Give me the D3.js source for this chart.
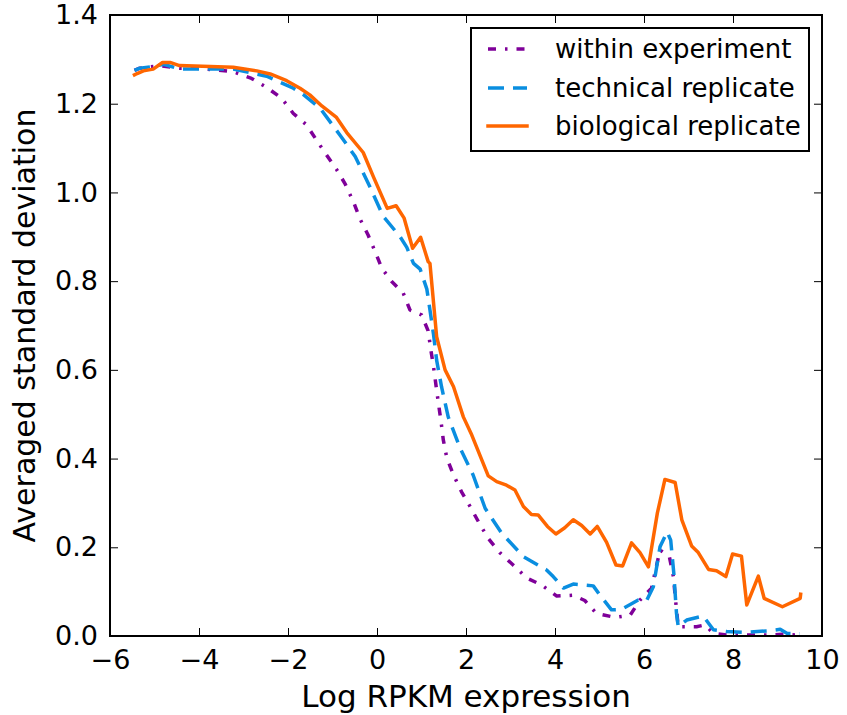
<!DOCTYPE html>
<html>
<head>
<meta charset="utf-8">
<script src="https://cdn.jsdelivr.net/npm/d3@7"></script>
<style>
  html, body { margin: 0; padding: 0; background: #fff; }
  svg { display: block; font-family: "DejaVu Sans", sans-serif; }
</style>
</head>
<body>
<svg id="chart" width="847" height="715"></svg>
<script>
// ---- data ----
const seriesNames = ["within experiment", "technical replicate", "biological replicate"];

const withinX = [-5.45,-5.33,-4.88,-4.43,-4.05,-3.60,-3.23,-2.82,-2.48,-2.14,-1.88,-1.58,-1.36,-1.13,-0.91,-0.72,-0.53,-0.38,-0.20,-0.04,0.11,0.33,0.59,0.74,1.00,1.15,1.21,1.27,1.33,1.38,1.44,1.49,1.57,1.72,1.90,2.09,2.30,2.50,2.76,3.06,3.36,3.70,4.04,4.41,4.67,4.93,5.35,5.69,5.91,6.17,6.36,6.57,6.66,6.73,6.77,7.18,7.37,7.56,7.90,8.30,8.83,9.10,9.50];
const withinY = [1.275,1.280,1.286,1.280,1.280,1.276,1.272,1.257,1.237,1.212,1.178,1.152,1.118,1.084,1.052,1.020,0.979,0.940,0.904,0.866,0.829,0.799,0.773,0.735,0.724,0.688,0.645,0.607,0.562,0.525,0.483,0.442,0.401,0.363,0.325,0.292,0.254,0.220,0.188,0.160,0.131,0.115,0.090,0.092,0.080,0.051,0.042,0.047,0.081,0.108,0.194,0.179,0.134,0.059,0.021,0.021,0.025,0.006,0.002,0.002,0.002,0.004,0.002];

const techX = [-5.45,-5.33,-5.03,-4.80,-4.43,-3.98,-3.23,-2.48,-1.88,-1.66,-1.28,-0.83,-0.49,-0.16,0.14,0.52,0.67,0.82,0.97,1.12,1.19,1.27,1.34,1.45,1.60,1.87,2.16,2.43,2.80,3.29,3.81,3.96,4.19,4.41,4.86,5.01,5.27,5.49,5.87,6.06,6.21,6.36,6.52,6.60,6.67,6.73,6.77,6.96,7.33,7.56,7.86,8.23,8.83,9.06,9.21,9.50];
const techY = [1.275,1.280,1.284,1.289,1.278,1.278,1.278,1.262,1.235,1.221,1.190,1.129,1.081,1.013,0.946,0.900,0.876,0.840,0.827,0.782,0.735,0.680,0.622,0.562,0.494,0.423,0.363,0.288,0.232,0.179,0.149,0.134,0.108,0.117,0.113,0.092,0.059,0.060,0.081,0.080,0.111,0.201,0.235,0.216,0.141,0.051,0.021,0.036,0.045,0.014,0.010,0.008,0.012,0.015,0.006,0.005];

const bioX = [-5.45,-5.39,-5.25,-5.03,-4.82,-4.65,-4.44,-3.23,-2.70,-2.40,-2.03,-1.73,-1.51,-1.24,-0.91,-0.68,-0.31,-0.08,0.23,0.43,0.61,0.80,0.98,1.15,1.19,1.34,1.53,1.72,1.94,2.13,2.50,2.69,2.91,3.10,3.29,3.47,3.62,3.83,4.02,4.22,4.41,4.60,4.79,4.95,5.16,5.37,5.52,5.72,5.91,6.10,6.30,6.47,6.70,6.85,7.07,7.22,7.45,7.63,7.84,7.99,8.19,8.31,8.57,8.70,9.11,9.51,9.52];
const bioY = [1.265,1.268,1.274,1.278,1.293,1.293,1.286,1.282,1.274,1.267,1.252,1.235,1.220,1.195,1.169,1.135,1.090,1.035,0.964,0.970,0.942,0.874,0.899,0.844,0.840,0.675,0.600,0.562,0.494,0.453,0.361,0.348,0.340,0.329,0.292,0.274,0.273,0.247,0.230,0.244,0.262,0.249,0.230,0.247,0.211,0.160,0.158,0.210,0.188,0.156,0.277,0.353,0.346,0.262,0.203,0.188,0.150,0.147,0.134,0.185,0.180,0.070,0.135,0.085,0.066,0.085,0.094];

const xTicks = [-6,-4,-2,0,2,4,6,8,10];
const yTicks = [0.0,0.2,0.4,0.6,0.8,1.0,1.2,1.4];

// ---- layout ----
const svg = d3.select("#chart");
const L = 110, R = 822, T = 15, B = 636;
const x = d3.scaleLinear().domain([-6, 10]).range([L, R]);
const y = d3.scaleLinear().domain([0, 1.4]).range([B, T]);

const styles = [
  { color: "#7f0099", dash: "8,9,2.5,9", cap: "butt" },
  { color: "#0a8ee0", dash: "16,9", cap: "butt" },
  { color: "#ff6600", dash: null, cap: "square" }
];
const series = [
  d3.zip(withinX, withinY),
  d3.zip(techX, techY),
  d3.zip(bioX, bioY)
];

svg.append("defs").append("clipPath").attr("id", "clip")
  .append("rect").attr("x", L).attr("y", T).attr("width", R - L).attr("height", B - T);

const line = d3.line().x(d => x(d[0])).y(d => y(d[1]));
const g = svg.append("g").attr("clip-path", "url(#clip)");
series.forEach((s, i) => {
  g.append("path").datum(s)
    .attr("d", line)
    .attr("fill", "none")
    .attr("stroke", styles[i].color)
    .attr("stroke-width", 3.5)
    .attr("stroke-linejoin", "round")
    .attr("stroke-linecap", styles[i].cap)
    .attr("stroke-dasharray", styles[i].dash);
});

// ---- axes ----
const tickLen = 8;
const fmtY = d3.format(".1f");
const fmtX = d => (d < 0 ? "\u2212" + Math.abs(d) : String(d));

const axB = d3.axisBottom(x).tickValues(xTicks).tickSize(-tickLen).tickPadding(14).tickFormat(fmtX);
const axT = d3.axisTop(x).tickValues(xTicks).tickSize(-tickLen).tickFormat("");
const axLft = d3.axisLeft(y).tickValues(yTicks).tickSize(-tickLen).tickPadding(12).tickFormat(fmtY);
const axRgt = d3.axisRight(y).tickValues(yTicks).tickSize(-tickLen).tickFormat("");

function styleAxis(sel) {
  sel.select(".domain").remove();
  sel.selectAll(".tick line").attr("stroke", "#000").attr("stroke-width", 1);
  sel.selectAll(".tick text").attr("fill", "#000").style("font-size", "27px")
     .style("font-family", "'DejaVu Sans', sans-serif");
}
svg.append("g").attr("transform", `translate(0,${B})`).call(axB).call(styleAxis);
svg.append("g").attr("transform", `translate(0,${T})`).call(axT).call(styleAxis);
svg.append("g").attr("transform", `translate(${L},0)`).call(axLft).call(styleAxis);
svg.append("g").attr("transform", `translate(${R},0)`).call(axRgt).call(styleAxis);

// frame
svg.append("rect").attr("x", L).attr("y", T).attr("width", R - L).attr("height", B - T)
  .attr("fill", "none").attr("stroke", "#000").attr("stroke-width", 2);

// axis labels
svg.append("text").attr("x", (L + R) / 2).attr("y", 707)
  .attr("text-anchor", "middle").style("font-size", "31px").text("Log RPKM expression");
svg.append("text").attr("transform", `translate(35,${(T + B) / 2}) rotate(-90)`)
  .attr("text-anchor", "middle").style("font-size", "30px").text("Averaged standard deviation");

// ---- legend ----
const lg = svg.append("g");
lg.append("rect").attr("x", 471).attr("y", 28).attr("width", 338).attr("height", 123)
  .attr("fill", "#fff").attr("stroke", "#000").attr("stroke-width", 2);
const rowsY = [49, 88, 126];
seriesNames.forEach((name, i) => {
  lg.append("line").attr("x1", 488).attr("x2", 527).attr("y1", rowsY[i]).attr("y2", rowsY[i])
    .attr("stroke", styles[i].color).attr("stroke-width", 3.5)
    .attr("stroke-linecap", styles[i].cap).attr("stroke-dasharray", styles[i].dash);
  lg.append("text").attr("x", 555).attr("y", rowsY[i]).attr("dy", "0.35em")
    .style("font-size", "26px").text(name);
});
</script>
</body>
</html>
